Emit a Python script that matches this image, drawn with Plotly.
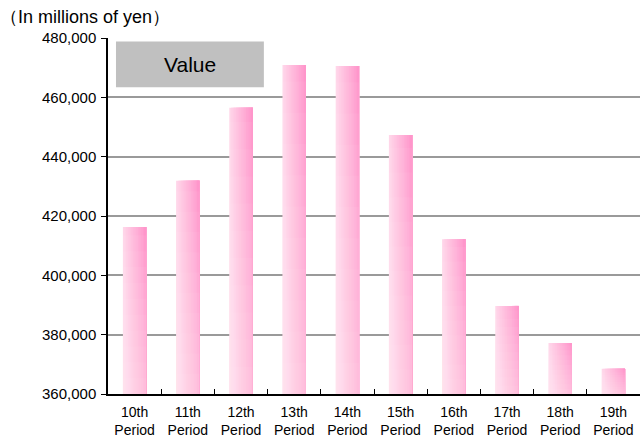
import plotly.graph_objects as go

# Annual value by fiscal period (millions of yen)
periods = ["10th", "11th", "12th", "13th", "14th", "15th", "16th", "17th", "18th", "19th"]
values = [416300, 431900, 456500, 470900, 470600, 447300, 412200, 389700, 377200, 368500]
y_ticks = [360000, 380000, 400000, 420000, 440000, 460000, 480000]
y_tick_labels = [f"{v:,}" for v in y_ticks]

categories = [f"{p}<br>Period" for p in periods]
axis_floor = 360000
bar_width = 0.44

fig = go.Figure()

# Horizontal gradient: each layer starts further right and runs to the bar's
# right edge, going from pale pink to pink
n_strips = 14
left_rgb = (255, 214, 233)
right_rgb = (255, 150, 203)
step = bar_width / n_strips
for j in range(n_strips):
    t = j / (n_strips - 1)
    rgb = tuple(round(a + (b - a) * t) for a, b in zip(left_rgb, right_rgb))
    fig.add_trace(go.Bar(
        x=categories,
        y=[v - axis_floor for v in values],
        base=axis_floor,
        width=bar_width - j * step,
        offset=-bar_width / 2 + j * step,
        marker=dict(color=f"rgb{rgb}", line=dict(width=0)),
        hoverinfo="skip",
        showlegend=False,
    ))

# Vertical fade: translucent white layers thicker toward the bottom
n_layers = 10
for k in range(1, n_layers + 1):
    frac = k / n_layers * 0.95
    fig.add_trace(go.Bar(
        x=categories,
        y=[(v - axis_floor) * frac for v in values],
        base=axis_floor,
        width=bar_width,
        offset=-bar_width / 2,
        marker=dict(color="rgba(255,255,255,0.05)", line=dict(width=0)),
        hoverinfo="skip",
        showlegend=False,
    ))

fig.update_layout(
    template="none",
    width=640,
    height=446,
    margin=dict(l=108, r=0, t=38, b=52),
    barmode="overlay",
    paper_bgcolor="white",
    plot_bgcolor="white",
    font=dict(family="Liberation Sans, Arial, sans-serif", size=14, color="#000"),
    xaxis=dict(
        showline=True, linecolor="#000", linewidth=1.5,
        ticks="inside", ticklen=5, tickcolor="#000", tickson="boundaries",
        showgrid=False, tickfont=dict(size=14), ticklabelstandoff=4,
    ),
    yaxis=dict(
        range=[360000, 480000],
        tickvals=y_ticks, ticktext=y_tick_labels,
        showline=True, linecolor="#000", linewidth=1.5,
        ticks="outside", ticklen=5, tickcolor="#000",
        showgrid=True, gridcolor="#9a9a9a", gridwidth=1.5,
        zeroline=False, tickfont=dict(size=15), ticklabelstandoff=2,
    ),
    shapes=[dict(
        type="rect", xref="paper", yref="paper",
        x0=0.015, x1=0.293, y0=0.862, y1=0.99,
        fillcolor="#c0c0c0", line=dict(width=0), layer="above",
    )],
    annotations=[
        dict(text="Value", xref="paper", yref="paper", x=0.154, y=0.926,
             showarrow=False, font=dict(size=21, color="#000"),
             xanchor="center", yanchor="middle"),
        dict(text="（In millions of yen）", xref="paper", yref="paper",
             x=-0.206, y=1.0, yshift=21, showarrow=False,
             font=dict(size=18, color="#000"), xanchor="left", yanchor="middle"),
    ],
)

fig.write_html("out.html")
